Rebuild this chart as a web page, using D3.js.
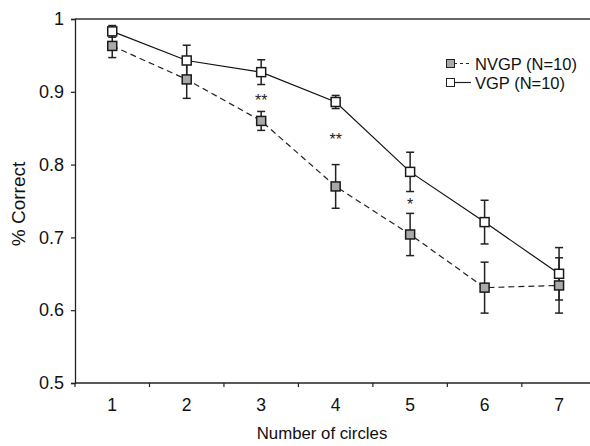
<!DOCTYPE html>
<html>
<head>
<meta charset="utf-8">
<script src="https://cdn.jsdelivr.net/npm/d3@7"></script>
<style>
  html, body { margin: 0; padding: 0; background: #fff; }
  svg { display: block; font-family: "Liberation Sans", Arial, Helvetica, sans-serif; }
</style>
</head>
<body>
<svg id="chart" width="590" height="446"></svg>
<script>
const categories = ["1", "2", "3", "4", "5", "6", "7"];
const vgpValues  = [0.983, 0.943, 0.927, 0.886, 0.790, 0.721, 0.650];
const vgpErrors  = [0.008, 0.021, 0.017, 0.009, 0.027, 0.030, 0.036];
const nvgpValues = [0.963, 0.917, 0.860, 0.770, 0.704, 0.631, 0.634];
const nvgpErrors = [0.016, 0.026, 0.013, 0.030, 0.029, 0.035, 0.038];
const significance = ["", "", "**", "**", "*", "", ""];
const yTicks = [0.5, 0.6, 0.7, 0.8, 0.9, 1];
const seriesNames = ["NVGP (N=10)", "VGP (N=10)"];
const xTitle = "Number of circles";
const yTitle = "% Correct";

(function () {
const svg = d3.select("#chart");
const mLeft = 75, mTop = 19, mBottom = 383, mRight = 596.3;

const x = d3.scaleBand().domain(categories).range([mLeft, mRight]).padding(0);
const y = d3.scaleLinear().domain([0.5, 1]).range([mBottom, mTop]);
const cx = c => x(c) + x.bandwidth() / 2;

const axisColor = "#222";

// top frame line
svg.append("line").attr("x1", mLeft).attr("x2", 590).attr("y1", y(1)).attr("y2", y(1))
  .attr("stroke", "#333").attr("stroke-width", 1.3);

// y axis
const yAxis = svg.append("g").attr("transform", `translate(${mLeft},0)`)
  .call(d3.axisLeft(y).tickValues(yTicks).tickSize(4).tickPadding(7)
    .tickFormat(d => d === 1 ? "1" : d3.format(".1f")(d)));
yAxis.attr("font-size", 18).attr("font-family", "'Liberation Sans', Arial, sans-serif");
yAxis.select(".domain").attr("stroke", axisColor).attr("stroke-width", 1.3);
yAxis.selectAll(".tick line").attr("stroke", axisColor).attr("stroke-width", 1.2);
yAxis.selectAll(".tick text").attr("fill", "#111");

// x axis with ticks at band boundaries
const xAxisG = svg.append("g").attr("transform", `translate(0,${mBottom})`);
xAxisG.append("line").attr("x1", mLeft).attr("x2", 590).attr("y1", 0).attr("y2", 0)
  .attr("stroke", axisColor).attr("stroke-width", 1.3);
const boundaries = categories.map(c => x(c)).concat([x(categories[categories.length - 1]) + x.bandwidth()]);
xAxisG.selectAll("line.tk").data(boundaries).enter().append("line").attr("class", "tk")
  .attr("x1", d => d).attr("x2", d => d).attr("y1", 0).attr("y2", 4)
  .attr("stroke", axisColor).attr("stroke-width", 1.2);
xAxisG.selectAll("text").data(categories).enter().append("text")
  .attr("x", d => cx(d)).attr("y", 28).attr("text-anchor", "middle")
  .attr("font-size", 17.5).attr("fill", "#111").text(d => d);

// axis titles
svg.append("text").attr("x", 322).attr("y", 439)
  .attr("text-anchor", "middle").attr("font-size", 16.8).attr("fill", "#111").text(xTitle);
svg.append("text").attr("transform", `translate(25,204) rotate(-90)`)
  .attr("text-anchor", "middle").attr("font-size", 19).attr("fill", "#111").text(yTitle);

// lines
const line = d3.line().x((d, i) => cx(categories[i])).y(d => y(d));
svg.append("path").datum(nvgpValues).attr("d", line).attr("fill", "none")
  .attr("stroke", "#222").attr("stroke-width", 1.2).attr("stroke-dasharray", "6,4");
svg.append("path").datum(vgpValues).attr("d", line).attr("fill", "none")
  .attr("stroke", "#111").attr("stroke-width", 1.2);

// error bars
function errorBars(values, errors) {
  const g = svg.append("g").attr("stroke", "#222").attr("stroke-width", 1.5);
  values.forEach((v, i) => {
    const px = cx(categories[i]);
    const y1 = y(v + errors[i]), y2 = y(v - errors[i]);
    g.append("line").attr("x1", px).attr("x2", px).attr("y1", y1).attr("y2", y2);
    g.append("line").attr("x1", px - 4).attr("x2", px + 4).attr("y1", y1).attr("y2", y1);
    g.append("line").attr("x1", px - 4).attr("x2", px + 4).attr("y1", y2).attr("y2", y2);
  });
}
errorBars(nvgpValues, nvgpErrors);
errorBars(vgpValues, vgpErrors);

// markers
const ms = 9;
function markers(values, fill) {
  svg.append("g").selectAll("rect").data(values).enter().append("rect")
    .attr("x", (d, i) => cx(categories[i]) - ms / 2)
    .attr("y", d => y(d) - ms / 2)
    .attr("width", ms).attr("height", ms)
    .attr("fill", fill).attr("stroke", "#1a1a1a").attr("stroke-width", 1.5);
}
markers(nvgpValues, "#a9a9a9");
markers(vgpValues, "#ffffff");

// significance asterisks
significance.forEach((s, i) => {
  if (!s) return;
  const mid = ((vgpValues[i] - vgpErrors[i]) + (nvgpValues[i] + nvgpErrors[i])) / 2;
  svg.append("text").attr("x", cx(categories[i])).attr("y", y(mid) + 8)
    .attr("text-anchor", "middle").attr("font-size", 16).attr("fill", "#222").text(s);
});

// legend
const legend = svg.append("g");
const legendRows = [
  { name: seriesNames[0], fill: "#a9a9a9", dash: "3,3", y: 63.5 },
  { name: seriesNames[1], fill: "#ffffff", dash: null, y: 82.5 }
];
legendRows.forEach(r => {
  legend.append("line").attr("x1", 454).attr("x2", 471).attr("y1", r.y).attr("y2", r.y)
    .attr("stroke", "#222").attr("stroke-width", 1.2)
    .attr("stroke-dasharray", r.dash);
  legend.append("rect").attr("x", 446.5).attr("y", r.y - 4).attr("width", 8).attr("height", 8)
    .attr("fill", r.fill).attr("stroke", "#222").attr("stroke-width", 1);
  legend.append("text").attr("x", 475).attr("y", r.y + 6).attr("font-size", 16.5)
    .attr("fill", "#111").text(r.name);
});
})();
</script>
</body>
</html>
